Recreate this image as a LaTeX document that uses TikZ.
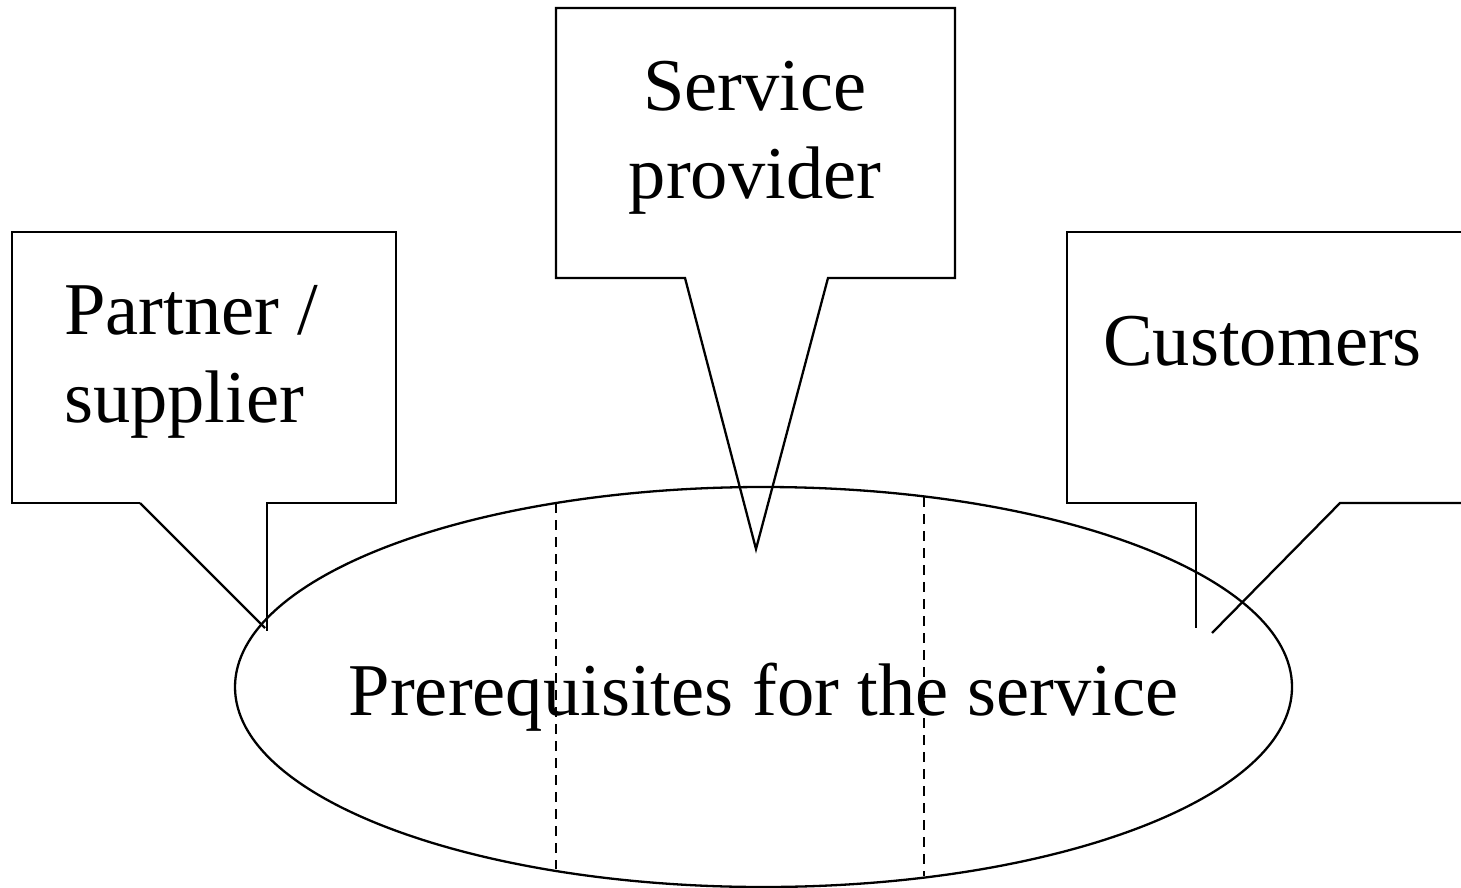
\documentclass[tikz,border=0pt]{standalone}
\usepackage{fontspec}
\setmainfont{Liberation Serif}
\begin{document}
\begin{tikzpicture}[x=1pt,y=-1pt,
  outline/.style={line width=2.3pt, line join=miter},
  divider/.style={line width=2.3pt, dash pattern=on 10pt off 7pt},
  label/.style={inner sep=0pt, font=\fontsize{74.5}{88}\selectfont}]
\useasboundingbox (0,0) rectangle (1461,888);

% ellipse holding the prerequisites
\coordinate (ec) at (763.5,687);
\draw[outline] (ec) ellipse [x radius=528.5, y radius=200];
\node[label, anchor=base] (prereq) at (763.5,715) {Prerequisites for the service};

% dashed dividers inside the ellipse
\coordinate (d1t) at (556,503);
\coordinate (d1b) at (556,869);
\coordinate (d2t) at (924,497);
\coordinate (d2b) at (924,876);
\draw[divider] (d1t) -- (d1b);
\draw[divider] (d2t) -- (d2b);

% left callout: partner / supplier
\coordinate (pl) at (140,503);
\coordinate (pr) at (267,503);
\coordinate (ptipA) at (265,628);
\coordinate (ptipB) at (267,631);
\draw[outline] (pl) -- (12,503) -- (12,232) -- (396,232) -- (396,503) -- (pr) -- (ptipB);
\draw[outline] (pl) -- (ptipA);
\node[label, anchor=base west, align=left] (partner) at (64,422) {Partner /\\supplier};

% middle callout: service provider
\coordinate (sl) at (685,278);
\coordinate (sr) at (828,278);
\coordinate (stip) at (756,549);
\draw[outline] (sl) -- (556,278) -- (556,8) -- (955,8) -- (955,278) -- (sr) -- (stip) -- cycle;
\node[label, anchor=base, align=center] (provider) at (755,198) {Service\\provider};

% right callout: customers
\coordinate (cl) at (1196,503);
\coordinate (cr) at (1340,503);
\coordinate (ctipA) at (1196,628);
\coordinate (ctipB) at (1212,633);
\draw[outline] (1462,232) -- (1067,232) -- (1067,503) -- (cl) -- (ctipA);
\draw[outline] (1462,503) -- (cr) -- (ctipB);
\node[label, anchor=base west] (customers) at (1103,365) {Customers};
\end{tikzpicture}
\end{document}
